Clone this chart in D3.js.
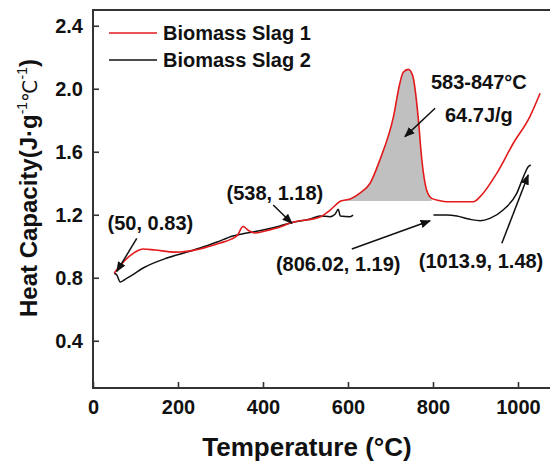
<!DOCTYPE html>
<html>
<head>
<meta charset="utf-8">
<script src="https://cdn.jsdelivr.net/npm/d3@7"></script>
<style>
  body { margin: 0; background: #fff; }
  text { font-family: 'Liberation Sans', Arial, sans-serif; font-weight: bold; fill: #111; }
</style>
</head>
<body>
<div id="chart"></div>
<script>
// Biomass Slag 1 (red): [temperature °C, heat capacity J/g/°C]
const slag1 = [
  [50, 0.83], [75, 0.91], [99, 0.963], [118, 0.983], [146, 0.976], [193, 0.963],
  [252, 0.983], [299, 1.02], [325, 1.045], [340, 1.07], [353, 1.125], [366, 1.1],
  [380, 1.084], [405, 1.097], [440, 1.122], [464, 1.148], [534, 1.186], [558, 1.23],
  [583, 1.287], [605, 1.3], [628, 1.338], [652, 1.4], [675, 1.548], [707, 1.823],
  [722, 2.035], [730, 2.105], [742, 2.123], [752, 2.085], [765, 1.823], [773, 1.568],
  [785, 1.357], [797, 1.304], [815, 1.29], [832, 1.283], [895, 1.283], [911, 1.315],
  [950, 1.463], [989, 1.654], [1028, 1.823], [1052, 1.971]
];

// Biomass Slag 2 (black), two measured segments
const slag2a = [
  [50, 0.83], [56, 0.817], [64, 0.773], [80, 0.798], [92, 0.817], [118, 0.862],
  [174, 0.925], [221, 0.963], [252, 0.989], [292, 1.027], [329, 1.065], [362, 1.084],
  [400, 1.103], [440, 1.129], [464, 1.148], [511, 1.173], [534, 1.192], [558, 1.188],
  [570, 1.205], [577, 1.235], [582, 1.192], [605, 1.188], [612, 1.198]
];
const slag2b = [
  [801, 1.198], [832, 1.198], [856, 1.192], [887, 1.171], [911, 1.162], [934, 1.177],
  [965, 1.23], [997, 1.336], [1013, 1.442], [1024, 1.505], [1030, 1.516]
];

const seriesNames = ['Biomass Slag 1', 'Biomass Slag 2'];
const seriesColors = ['#e31a1c', '#111111'];

const xTicks = [0, 200, 400, 600, 800, 1000];
const yTicks = [0.4, 0.8, 1.2, 1.6, 2.0, 2.4];

// peak integration range and baseline
const peakRange = [583, 800];
const peakBase = 1.287;

// annotations: label, label anchor [T, C], arrow from [T, C] to [T, C]
const notes = [
  { text: '(50, 0.83)', at: [135, 1.103], from: [103, 1.05], to: [56, 0.84] },
  { text: '(538, 1.18)', at: [428, 1.294], from: [424, 1.262], to: [468, 1.146] },
  { text: '(806.02, 1.19)', at: [577, 0.843], from: [609, 0.983], to: [793, 1.162] },
  { text: '(1013.9, 1.48)', at: [913, 0.862], from: [962, 1.019], to: [1024, 1.452] },
  { text: '583-847°C', at: [908, 1.998] },
  { text: '64.7J/g', at: [908, 1.792], from: [805, 1.876], to: [734, 1.696] }
];

const W = 550, H = 462;
const margin = { top: 10, right: 0, bottom: 74, left: 93 };

const svg = d3.select('#chart').append('svg')
  .attr('width', W).attr('height', H);

const x = d3.scaleLinear().domain([0, 1080]).range([margin.left, margin.left + 0.425 * 1080]);
const y = d3.scaleLinear().domain([0.1, 2.5]).range([H - margin.bottom, margin.top]);

svg.append('defs').append('clipPath').attr('id', 'clip')
  .append('rect')
  .attr('x', margin.left).attr('y', margin.top)
  .attr('width', W - margin.left).attr('height', y(0.1) - margin.top);

svg.select('defs').append('marker')
  .attr('id', 'arrow')
  .attr('viewBox', '0 0 10 10')
  .attr('refX', 9).attr('refY', 5)
  .attr('markerWidth', 7).attr('markerHeight', 7)
  .attr('markerUnits', 'strokeWidth')
  .attr('orient', 'auto')
  .append('path').attr('d', 'M0,1 L10,5 L0,9 Z').attr('fill', '#111');

const plot = svg.append('g').attr('clip-path', 'url(#clip)');

// shaded peak
const peakPts = slag1.filter((d) => d[0] >= peakRange[0] && d[0] <= peakRange[1]);
plot.append('path')
  .datum(peakPts)
  .attr('fill', '#c0c0c0')
  .attr('d', d3.area()
    .x((d) => x(d[0]))
    .y0(y(peakBase))
    .y1((d) => y(Math.max(d[1], peakBase)))
    .curve(d3.curveMonotoneX));

const line = d3.line()
  .x((d) => x(d[0]))
  .y((d) => y(d[1]))
  .curve(d3.curveMonotoneX);

[slag2a, slag2b].forEach((seg) => {
  plot.append('path').datum(seg)
    .attr('fill', 'none').attr('stroke', seriesColors[1]).attr('stroke-width', 1.5)
    .attr('d', line);
});
plot.append('path').datum(slag1)
  .attr('fill', 'none').attr('stroke', seriesColors[0]).attr('stroke-width', 1.6)
  .attr('d', line);

// axes
const xAxis = svg.append('g')
  .attr('transform', `translate(0,${y(0.1)})`)
  .call(d3.axisBottom(x).tickValues(xTicks).tickSize(-6).tickPadding(12).tickFormat(d3.format('d')));
const yAxis = svg.append('g')
  .attr('transform', `translate(${margin.left},0)`)
  .call(d3.axisLeft(y).tickValues(yTicks).tickSize(-6).tickPadding(10).tickFormat(d3.format('.1f')));

[xAxis, yAxis].forEach((g) => {
  g.select('.domain').remove();
  g.selectAll('.tick line').attr('stroke', '#333').attr('stroke-width', 1.6);
  g.selectAll('text')
    .style('font-family', "'Liberation Sans', Arial, sans-serif")
    .style('font-weight', 'bold')
    .style('font-size', '20px')
    .attr('fill', '#111');
});

// frame (left, top, bottom)
svg.append('path')
  .attr('d', `M${W},${margin.top}H${margin.left}V${y(0.1)}H${W}`)
  .attr('fill', 'none').attr('stroke', '#333').attr('stroke-width', 2);

// axis titles
svg.append('text')
  .attr('x', 307).attr('y', 456)
  .attr('text-anchor', 'middle')
  .style('font-size', '26px')
  .text('Temperature (°C)');

const yt = svg.append('text')
  .attr('transform', 'translate(37,188) rotate(-90)')
  .attr('text-anchor', 'middle')
  .style('font-size', '24px');
yt.append('tspan').text('Heat Capacity(J·g');
yt.append('tspan').attr('dy', -10).style('font-size', '14px').style('font-weight', 'normal').text('-1');
yt.append('tspan').attr('dy', 10)
  .style('font-family', "'DejaVu Sans', sans-serif")
  .style('font-weight', 'normal').style('font-size', '20px')
  .text('℃');
yt.append('tspan').attr('dy', -10).style('font-size', '14px').style('font-weight', 'normal').text('-1');
yt.append('tspan').attr('dy', 10).text(')');

// legend
const legend = svg.append('g');
seriesNames.forEach((name, i) => {
  const ly = 33 + i * 27;
  legend.append('line')
    .attr('x1', 109).attr('x2', 157).attr('y1', ly).attr('y2', ly)
    .attr('stroke', seriesColors[i]).attr('stroke-width', 1.6);
  legend.append('text')
    .attr('x', 163).attr('y', ly + 7)
    .style('font-size', '20px')
    .text(name);
});

// annotations
notes.forEach((n) => {
  svg.append('text')
    .attr('x', x(n.at[0])).attr('y', y(n.at[1]))
    .attr('text-anchor', 'middle')
    .style('font-size', '20px')
    .text(n.text);
  if (n.from) {
    svg.append('line')
      .attr('x1', x(n.from[0])).attr('y1', y(n.from[1]))
      .attr('x2', x(n.to[0])).attr('y2', y(n.to[1]))
      .attr('stroke', '#111').attr('stroke-width', 1.5)
      .attr('marker-end', 'url(#arrow)');
  }
});
</script>
</body>
</html>
